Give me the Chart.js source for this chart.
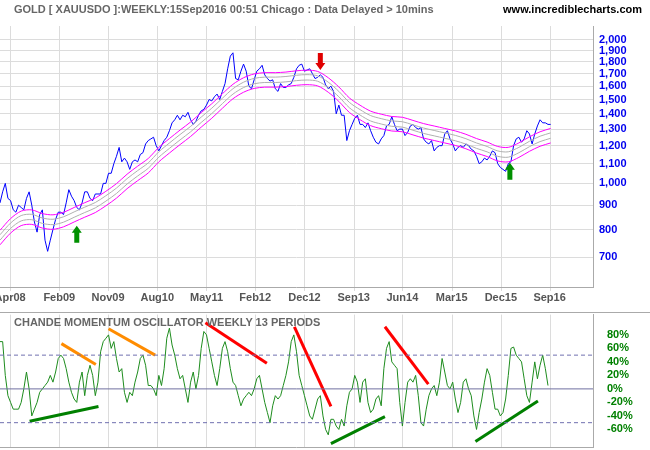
<!DOCTYPE html>
<html>
<head>
<meta charset="utf-8">
<script src="https://cdn.jsdelivr.net/npm/chart.js@4.4.0/dist/chart.umd.min.js"></script>
<style>
body{margin:0;background:#fff;width:650px;height:450px;overflow:hidden;position:relative;font-family:"Liberation Sans",Arial,sans-serif}
#c1{position:absolute;left:0;top:0}
#c2{position:absolute;left:0;top:302px}
.t{position:absolute;font-weight:bold;font-size:11px;color:#666}
#sep{position:absolute;left:0;top:312px;width:650px;height:1px;background:#aaa}
</style>
</head>
<body>
<canvas id="c1" width="650" height="306"></canvas>
<div id="sep"></div>
<canvas id="c2" width="650" height="158"></canvas>
<div class="t" style="left:14px;top:3px">GOLD [ XAUUSDO ]:WEEKLY:15Sep2016 00:51 Chicago : Data Delayed &gt; 10mins</div>
<div class="t" style="right:8px;top:3px;color:#000">www.incrediblecharts.com</div>
<div class="t" style="left:14px;top:316px">CHANDE MOMENTUM OSCILLATOR WEEKLY 13 PERIODS</div>
<script>
// time axis is in months since Feb 2008, one price point every half month
var step = 0.5;
var xTickMonths = [1.9, 11.2, 20.4, 29.7, 39.0, 48.2, 57.5, 66.8, 76.0, 85.3, 94.6, 103.8];
var xLabels = ['Apr08','Feb09','Nov09','Aug10','May11','Feb12','Dec12','Sep13','Jun14','Mar15','Dec15','Sep16'];
var priceTicks = [700,800,900,1000,1100,1200,1300,1400,1500,1600,1700,1800,1900,2000];
var oscTicks = [-60,-40,-20,0,20,40,60,80];

var gold = [
 910,960,1000,930,920,880,870,900,890,880,930,960,900,830,790,860,880,760,720,760,800,840,870,
 870,860,910,970,940,920,890,880,910,960,960,930,920,950,950,950,1000,1000,1050,1050,1100,1140,1190,1110,
 1130,1110,1070,1110,1120,1110,1150,1160,1210,1230,1240,1250,1200,1170,1200,1230,1250,1290,1340,1360,1390,1360,1390,1380,1410,
 1360,1330,1350,1390,1420,1430,1460,1500,1490,1520,1540,1500,1560,1620,1740,1850,1880,1660,1650,1720,1780,1720,1600,1580,
 1650,1720,1740,1770,1690,1660,1640,1650,1580,1560,1620,1590,1590,1610,1620,1670,1740,1770,1780,1720,1730,1740,1700,1660,
 1670,1690,1670,1610,1580,1600,1560,1400,1460,1390,1390,1230,1290,1330,1370,1390,1330,1330,1310,1340,1290,1250,1220,1210,
 1240,1260,1320,1330,1380,1330,1290,1300,1300,1260,1280,1320,1330,1310,1300,1310,1240,1220,1210,1230,1170,1190,1200,1200,
 1270,1290,1240,1210,1170,1190,1200,1190,1210,1200,1180,1170,1140,1100,1110,1130,1120,1140,1170,1160,1100,1080,1070,1060,
 1100,1110,1200,1240,1250,1220,1240,1290,1270,1210,1270,1320,1360,1340,1340,1330,1330
];
// envelope centre, every 2 months
var midStep = 2;
var envMid = [770,815,845,850,835,830,840,860,880,900,930,965,1010,1050,1090,1150,1200,1250,1300,1360,1420,1490,1560,1610,1640,1650,1650,1655,1665,1670,1660,1610,1540,1460,1410,1370,1350,1335,1330,1310,1290,1275,1260,1245,1225,1200,1180,1155,1150,1175,1210,1240,1260];
var outerPct = 0.035, innerPct = 0.013;

var cmo = [
 70,70,20,-10,-20,-30,-30,-30,-20,0,25,0,-40,-30,-20,-5,0,5,10,20,10,25,45,50,45,30,10,-5,-15,-20,
 10,25,-10,20,35,20,-10,10,55,70,75,80,60,70,45,25,30,-5,-20,-5,-10,10,25,45,50,35,5,5,0,-10,
 20,5,30,75,90,65,50,30,15,20,0,-20,10,25,0,20,60,85,80,60,40,20,5,30,60,70,55,30,10,5,
 -10,-25,-15,-10,-5,-10,0,15,20,0,-20,-35,-50,-25,-10,-15,-10,5,20,40,70,80,55,20,5,-10,-25,-40,-45,-30,
 -15,-10,-40,-60,-68,-45,-45,-55,-60,-45,-55,-25,-5,0,20,10,-20,10,15,-20,-35,-30,-15,-10,-25,30,60,70,40,35,
 30,-20,-55,-20,10,15,10,20,-10,-50,-55,-30,-10,0,5,-10,10,45,25,5,0,10,-15,-35,-20,10,15,0,-10,-40,
 -60,-35,-15,10,30,20,-5,-30,-30,-40,-35,-15,20,60,62,50,45,40,15,-10,-20,10,40,15,35,50,30,5
];

// trend lines on the oscillator: [month, value] pairs
var orangeLines = [[[11.6,67],[18.1,36]],[[20.5,89],[29.3,50]]];
var redLines = [[[38.8,98],[50.4,38]],[[55.6,92],[62.5,-26]],[[72.7,92],[80.9,7]]];
var greenLines = [[[5.6,-48],[18.6,-26]],[[62.5,-81],[72.7,-41]],[[89.8,-78],[101.6,-18]]];
// arrows on price chart: [month, price at tip, direction]
var arrows = [[60.5,1730,'down'],[14.5,815,'up'],[96.3,1105,'up']];

function pts(arr, st, f){ return arr.map(function(v,i){ return {x:i*st, y:f?f(v):v}; }); }

var fontStr = 'bold 11px "Liberation Sans", Arial, sans-serif';
var font = {family:'"Liberation Sans", Arial, sans-serif', size:11, weight:'bold'};
var gridCol = '#dcdcdc';

var xScale = {
  type:'linear', min:0, max:112, display:false
};

// vertical month grid and (optionally) the month labels
function timeGrid(withLabels){
  return {
    id:'timegrid',
    beforeDatasetsDraw:function(chart){
      var c = chart.ctx, a = chart.chartArea, xs = chart.scales.x;
      c.save();
      c.strokeStyle = gridCol; c.lineWidth = 1;
      xTickMonths.forEach(function(m){
        var x = Math.round(xs.getPixelForValue(m)) + 0.5;
        c.beginPath(); c.moveTo(x, a.top); c.lineTo(x, a.bottom + (withLabels ? 4 : 0)); c.stroke();
      });
      c.strokeStyle = '#aaa';
      c.beginPath(); c.moveTo(a.left, a.bottom + 0.5); c.lineTo(a.right, a.bottom + 0.5); c.stroke();
      if (withLabels) {
        c.fillStyle = '#555'; c.font = fontStr; c.textAlign = 'center'; c.textBaseline = 'middle';
        xTickMonths.forEach(function(m, i){ c.fillText(xLabels[i], xs.getPixelForValue(m), a.bottom + 11); });
      }
      c.restore();
    }
  };
}

var arrowPlugin = {
  id:'arrows',
  afterDatasetsDraw:function(chart){
    var c = chart.ctx, xs = chart.scales.x, ys = chart.scales.y;
    arrows.forEach(function(a){
      var x = xs.getPixelForValue(a[0]), y = ys.getPixelForValue(a[1]);
      var d = a[2]=='down' ? -1 : 1;
      c.save();
      c.fillStyle = d<0 ? '#e00000' : '#009000';
      c.beginPath();
      c.moveTo(x, y);
      c.lineTo(x-5, y+7*d);
      c.lineTo(x-2.5, y+7*d);
      c.lineTo(x-2.5, y+17*d);
      c.lineTo(x+2.5, y+17*d);
      c.lineTo(x+2.5, y+7*d);
      c.lineTo(x+5, y+7*d);
      c.closePath();
      c.fill();
      c.restore();
    });
  }
};

function band(f, col){
  return {data:pts(envMid, midStep, f), borderColor:col, borderWidth:1, pointRadius:0, tension:0.3};
}

new Chart(document.getElementById('c1'), {
  type:'line',
  data:{datasets:[
    band(function(v){return v*(1+innerPct);}, '#b0b0b0'),
    band(function(v){return v*(1-innerPct);}, '#b0b0b0'),
    band(function(v){return v*(1+outerPct);}, '#ff00ff'),
    band(function(v){return v*(1-outerPct);}, '#ff00ff'),
    {data:pts(gold, step), borderColor:'#0000ff', borderWidth:1, pointRadius:0, tension:0}
  ]},
  options:{
    responsive:false, animation:false,
    layout:{padding:{left:0, right:0, top:26, bottom:19}},
    plugins:{legend:{display:false}, tooltip:{enabled:false}},
    scales:{
      x:xScale,
      y:{type:'logarithmic', position:'right', min:606, max:2140,
        afterBuildTicks:function(s){ s.ticks = priceTicks.map(function(v){return {value:v};}); },
        afterFit:function(s){ s.width = 57; },
        ticks:{color:'#0000ee', font:font, padding:6, callback:function(v){ return v.toLocaleString('en-US'); }},
        grid:{color:gridCol, drawTicks:false},
        border:{color:'#aaa'}
      }
    }
  },
  plugins:[timeGrid(true), arrowPlugin]
});

function seg(p, col){
  return {data:p.map(function(q){return {x:q[0], y:q[1]};}), borderColor:col, borderWidth:3, pointRadius:0, borderCapStyle:'butt'};
}
var oscSets = [
  {data:[{x:0,y:50},{x:112,y:50}], borderColor:'#7070b0', borderWidth:1, borderDash:[4,3], pointRadius:0},
  {data:[{x:0,y:-50},{x:112,y:-50}], borderColor:'#7070b0', borderWidth:1, borderDash:[4,3], pointRadius:0},
  {data:[{x:0,y:0},{x:112,y:0}], borderColor:'#7070a0', borderWidth:1, pointRadius:0},
  {data:pts(cmo, step), borderColor:'#1e8c1e', borderWidth:1, pointRadius:0, tension:0}
];
orangeLines.forEach(function(p){ oscSets.push(seg(p,'#ff8c00')); });
redLines.forEach(function(p){ oscSets.push(seg(p,'#ff0000')); });
greenLines.forEach(function(p){ oscSets.push(seg(p,'#008000')); });

new Chart(document.getElementById('c2'), {
  type:'line',
  data:{datasets:oscSets},
  options:{
    responsive:false, animation:false,
    layout:{padding:{left:0, right:0, top:11, bottom:13}},
    plugins:{legend:{display:false}, tooltip:{enabled:false}},
    scales:{
      x:xScale,
      y:{type:'linear', position:'right', min:-86, max:110,
        afterBuildTicks:function(s){ s.ticks = oscTicks.map(function(v){return {value:v};}); },
        afterFit:function(s){ s.width = 57; },
        ticks:{color:'#008000', font:font, padding:6, callback:function(v){ return v + '%'; }},
        grid:{display:false},
        border:{color:'#aaa'}
      }
    }
  },
  plugins:[timeGrid(false)]
});
</script>
</body>
</html>
